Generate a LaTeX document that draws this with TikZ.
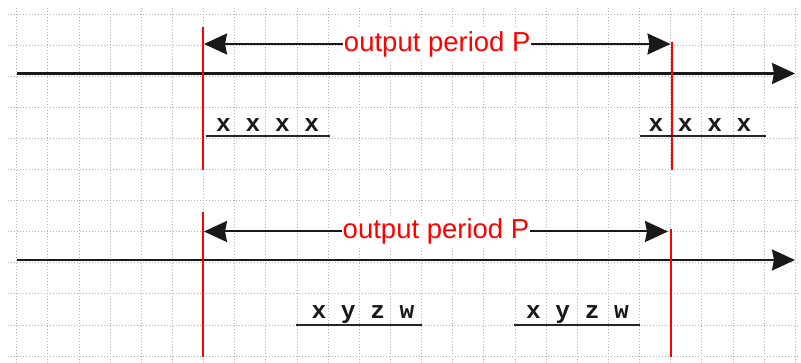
\documentclass[tikz,border=0pt]{standalone}
\usepackage{fontspec}
\setmainfont{Liberation Sans}
\newfontfamily\codefont{Liberation Mono}
\usetikzlibrary{arrows.meta}
\definecolor{pured}{HTML}{FF0000}
\begin{document}
\begin{tikzpicture}[x=1pt,y=-1pt,
  gridline/.style={black!30, line width=0.8pt, dash pattern=on 1pt off 2pt},
  tip/.style={},
  timeline/.style={black!90, line width=2.4pt, -{Stealth[length=23pt,width=21pt,inset=2pt]}},
  period/.style={black!90, line width=2pt, {Stealth[length=23pt,width=21pt,inset=2pt]}-{Stealth[length=23pt,width=21pt,inset=2pt]}},
  periodlabel/.style={fill=white, text=pured, font=\fontsize{27.5}{27.5}\selectfont, inner xsep=0.5pt, inner ysep=3pt},
  redline/.style={pured, line width=2pt},
  code/.style={font=\codefont\bfseries\fontsize{24.5}{24.5}\selectfont, text=black!90, inner sep=0pt, anchor=base},
  uline/.style={black!85, line width=2pt}
]
\useasboundingbox (0,0) rectangle (801,363);
% grid
\foreach \i in {0,...,25} \draw[gridline] ({16.7+31.14*\i},8) -- ({16.7+31.14*\i},363);
\foreach \j in {0,...,11} \draw[gridline] (8,{14+31.1*\j}) -- (799,{14+31.1*\j});

% ---------- top diagram ----------
\coordinate (t1a) at (16.7,73.5);
\coordinate (t1b) at (795,73.5);
\draw[timeline] (t1a) -- (t1b);

\coordinate (r1t) at (203,27);   \coordinate (r1b) at (203,170);
\coordinate (r2t) at (671.5,42); \coordinate (r2b) at (671.5,170);
\draw[redline] (r1t) -- (r1b);
\draw[redline] (r2t) -- (r2b);

\coordinate (p1l) at (204,44);
\coordinate (p1r) at (670.5,44);
\draw[period] (p1l) -- node[periodlabel] (lab1) {output period P} (p1r);

\node[code] (c1) at (267.7,131.7) {x x x x};
\coordinate (u1a) at (205.7,136); \coordinate (u1b) at (330,136);
\draw[uline] (u1a) -- (u1b);

\node[code] (c2) at (700,131.7) {x x x x};
\coordinate (u2a) at (640,136); \coordinate (u2b) at (766,136);
\draw[uline] (u2a) -- (u2b);

% ---------- bottom diagram ----------
\coordinate (t2a) at (16.7,260);
\coordinate (t2b) at (795,260);
\draw[timeline] (t2a) -- (t2b);

\coordinate (r3t) at (203,212);   \coordinate (r3b) at (203,357);
\coordinate (r4t) at (670.5,229); \coordinate (r4b) at (670.5,357);
\draw[redline] (r3t) -- (r3b);
\draw[redline] (r4t) -- (r4b);

\coordinate (p2l) at (204,231.5);
\coordinate (p2r) at (668,231.5);
\draw[period] (p2l) -- node[periodlabel] (lab2) {output period P} (p2r);

\node[code] (c3) at (363,318.3) {x y z w};
\coordinate (u3a) at (296,324.7); \coordinate (u3b) at (421.7,324.7);
\draw[uline] (u3a) -- (u3b);

\node[code] (c4) at (577.5,318.3) {x y z w};
\coordinate (u4a) at (514.3,324.7); \coordinate (u4b) at (640,324.7);
\draw[uline] (u4a) -- (u4b);
\end{tikzpicture}
\end{document}
